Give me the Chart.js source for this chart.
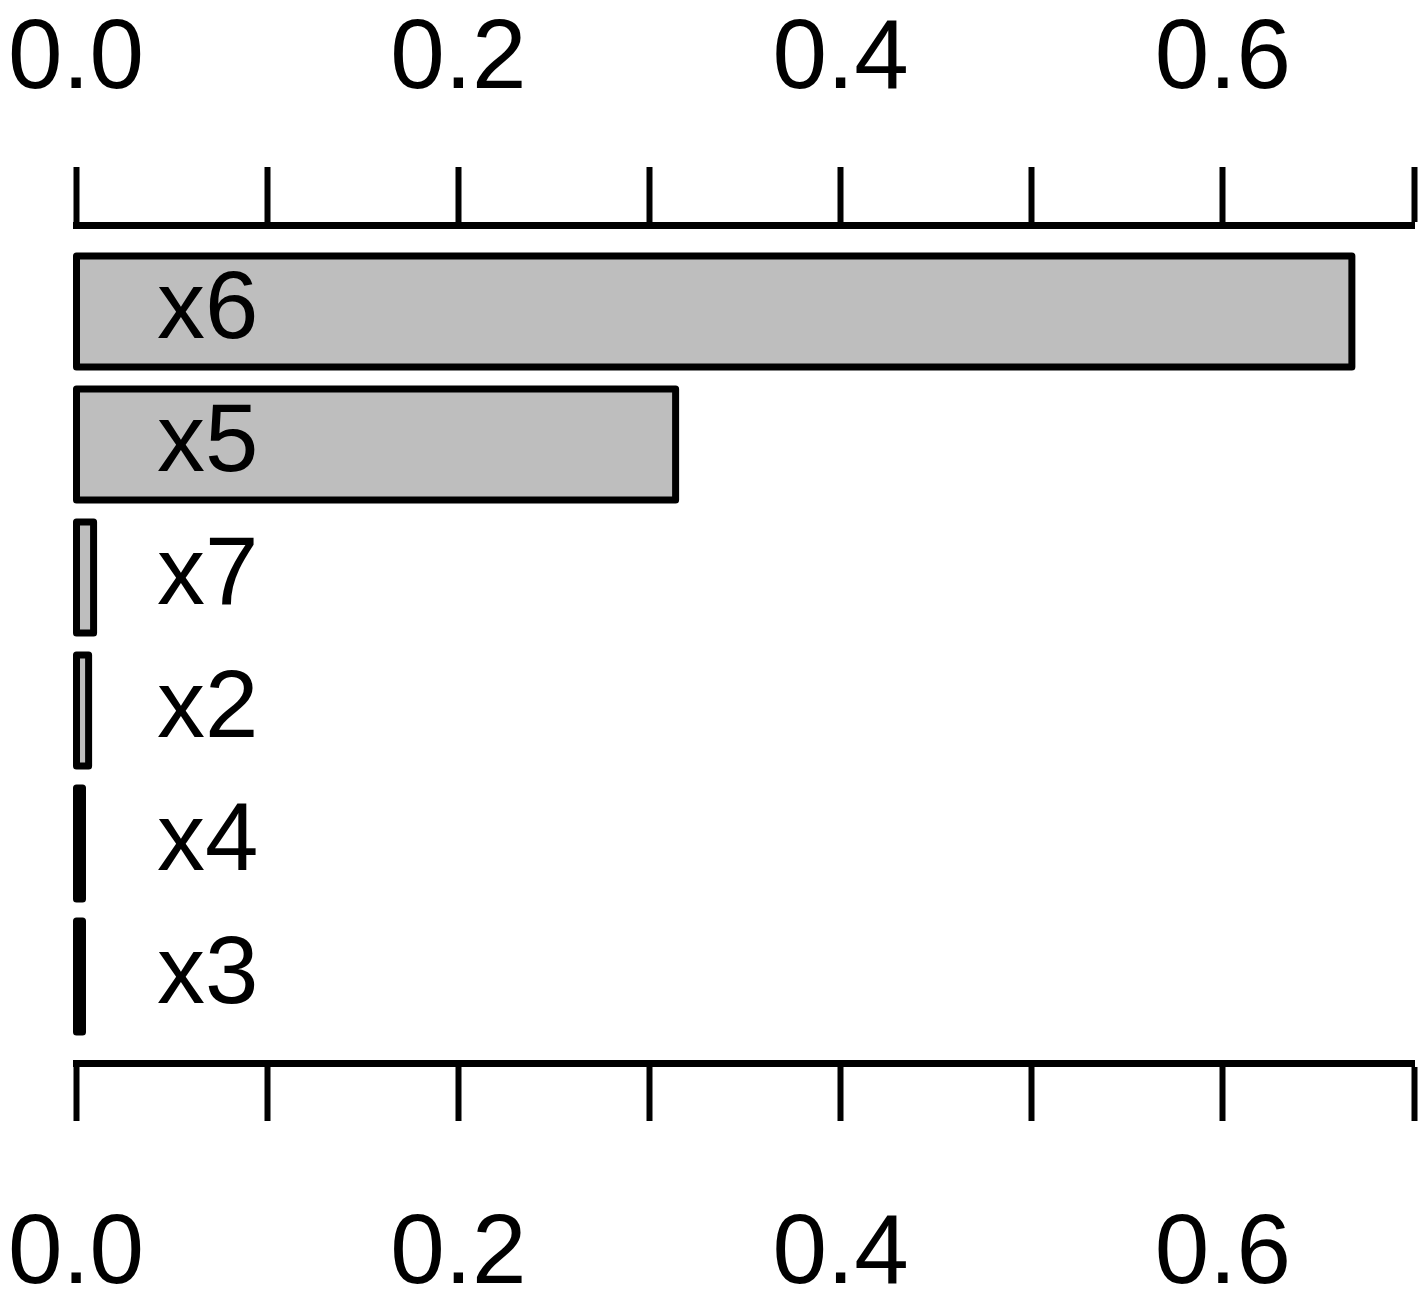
<!DOCTYPE html>
<html>
<head>
<meta charset="utf-8">
<script src="https://cdn.jsdelivr.net/npm/chart.js@4/dist/chart.umd.min.js"></script>
<style>
  html, body { margin: 0; padding: 0; background: #fff; }
  canvas { display: block; }
</style>
</head>
<body>
<canvas id="impChart" width="1426" height="1310"></canvas>
<script>
// variable importance, top to bottom
const names = ['x6', 'x5', 'x7', 'x2', 'x4', 'x3'];
const importance = [0.6675, 0.3137, 0.0092, 0.0066, 0.0034, 0.0034];
const tickValues = [0, 0.1, 0.2, 0.3, 0.4, 0.5, 0.6, 0.7];

// barplot layout: width 1, space 0.2 -> centres at 0.7, 1.9, ...
const barPos = names.map((n, i) => 0.7 + i * 1.2);

const fontFamily = '"Liberation Sans", Arial, sans-serif';

// R style border: stroke centred on the bar edges
const rBorder = {
  id: 'rBorder',
  afterDatasetsDraw(chart) {
    const ctx = chart.ctx;
    ctx.save();
    ctx.lineWidth = 7;
    ctx.strokeStyle = '#000';
    ctx.lineJoin = 'round';
    chart.getDatasetMeta(0).data.forEach(bar => {
      const p = bar.getProps(['x', 'y', 'base', 'height'], true);
      ctx.strokeRect(p.base, p.y - p.height / 2, p.x - p.base, p.height);
    });
    ctx.restore();
  }
};

function xAxis(position, height, pad) {
  return {
    type: 'linear',
    position: position,
    min: 0,
    max: 0.7,
    afterBuildTicks: s => { s.ticks = tickValues.map(v => ({ value: v })); },
    afterFit: s => {
      s.height = height;
      s.paddingLeft = 0;
      s.paddingRight = 0;
    },
    grid: {
      drawOnChartArea: false,
      drawTicks: true,
      tickLength: 58,
      tickWidth: 6,
      tickColor: '#000'
    },
    border: { display: true, width: 7, color: '#000' },
    ticks: {
      autoSkip: false,
      maxRotation: 0,
      padding: pad,
      color: '#000',
      font: { family: fontFamily, size: 98, lineHeight: 1 },
      callback: (v, i) => (i % 2 ? '' : v.toFixed(1))
    }
  };
}

new Chart(document.getElementById('impChart').getContext('2d'), {
  type: 'bar',
  data: {
    datasets: [{
      data: importance.map((v, i) => ({ x: v, y: barPos[i] })),
      backgroundColor: '#bebebe',
      borderWidth: 0,
      categoryPercentage: 1,
      barPercentage: 1 / 1.2
    }]
  },
  options: {
    indexAxis: 'y',
    responsive: false,
    animation: false,
    layout: { padding: { left: 0, right: 12, top: 0, bottom: 0 } },
    plugins: { legend: { display: false }, tooltip: { enabled: false } },
    scales: {
      xTop: xAxis('top', 225, 57),
      x: xAxis('bottom', 247, 86),
      y: {
        type: 'linear',
        reverse: true,
        offset: false,
        min: -0.08,
        max: 7.48,
        afterBuildTicks: s => { s.ticks = barPos.map(v => ({ value: v })); },
        afterFit: s => { s.width = 76; },
        grid: { display: false, drawTicks: false },
        border: { display: false },
        ticks: {
          z: 1,
          mirror: true,
          autoSkip: false,
          padding: 81,
          color: '#000',
          font: { family: fontFamily, size: 96, lineHeight: 1 },
          callback: (v, i) => names[i]
        }
      }
    }
  },
  plugins: [rBorder]
});
</script>
</body>
</html>
